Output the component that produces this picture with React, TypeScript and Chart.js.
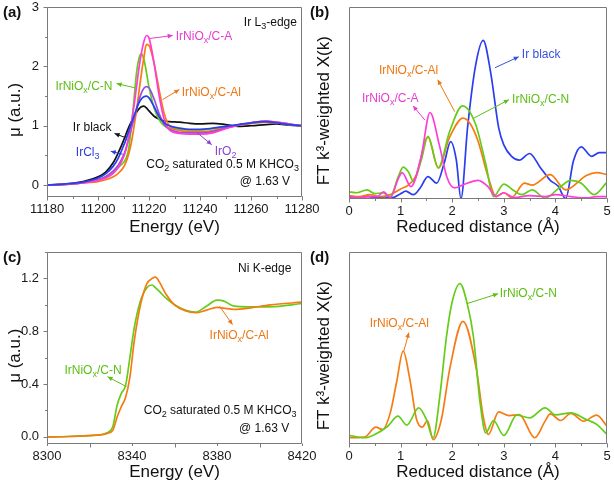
import React, { useEffect, useRef } from 'react';
import { Chart, registerables } from 'chart.js';

Chart.register(...registerables);

const FONT = '"Liberation Sans", Arial, Helvetica, sans-serif';
const FRAME = '#7a7a7a';

const C_BLACK = '#111111';
const C_BLUE = '#2a3df0';
const C_PURPLE = '#9b4fe0';
const C_MAGENTA = '#ff3dd6';
const C_ORANGE = '#f77b12';
const C_GREEN = '#66cc1a';

// ---------- Panel (a): Ir L3-edge XANES ----------
const aEnergy = [11180, 11190, 11195, 11200, 11203, 11206, 11208, 11210, 11211, 11212, 11213, 11214, 11215, 11216, 11217, 11218, 11219, 11220, 11222, 11224, 11226, 11228, 11232, 11236, 11240, 11245, 11250, 11255, 11260, 11266, 11270, 11275, 11280];
const aIrBlack = [0, 0.03, 0.07, 0.14, 0.22, 0.38, 0.55, 0.75, 0.86, 0.97, 1.06, 1.15, 1.22, 1.28, 1.32, 1.33, 1.3, 1.25, 1.16, 1.11, 1.08, 1.07, 1.06, 1.04, 1.03, 1.04, 1.02, 0.99, 1.0, 1.02, 1.03, 1.01, 1.0];
const aIrCl3 = [0, 0.03, 0.06, 0.12, 0.19, 0.32, 0.46, 0.66, 0.77, 0.9, 1.03, 1.15, 1.27, 1.38, 1.45, 1.49, 1.5, 1.47, 1.32, 1.15, 1.05, 1.0, 0.96, 0.94, 0.94, 0.96, 0.99, 1.02, 1.05, 1.07, 1.05, 1.02, 1.0];
const aIrO2 = [0, 0.02, 0.05, 0.09, 0.14, 0.24, 0.34, 0.5, 0.62, 0.78, 0.94, 1.1, 1.27, 1.42, 1.55, 1.63, 1.66, 1.64, 1.45, 1.2, 1.02, 0.94, 0.89, 0.88, 0.88, 0.9, 0.96, 1.01, 1.05, 1.08, 1.06, 1.03, 1.0];
const aCA = [0, 0.02, 0.04, 0.08, 0.12, 0.2, 0.3, 0.47, 0.6, 0.8, 1.03, 1.3, 1.62, 1.95, 2.22, 2.42, 2.52, 2.48, 2.05, 1.5, 1.1, 0.93, 0.87, 0.86, 0.86, 0.88, 0.95, 1.01, 1.05, 1.08, 1.06, 1.03, 1.0];
const aCAl = [0, 0.02, 0.04, 0.06, 0.09, 0.14, 0.2, 0.3, 0.39, 0.52, 0.7, 0.95, 1.23, 1.55, 1.87, 2.15, 2.37, 2.35, 2.05, 1.6, 1.2, 1.0, 0.92, 0.9, 0.9, 0.92, 0.97, 1.01, 1.04, 1.06, 1.05, 1.02, 1.0];
const aCN = [0, 0.02, 0.05, 0.09, 0.14, 0.23, 0.3, 0.38, 0.45, 0.6, 0.95, 1.38, 1.85, 2.12, 2.21, 2.12, 1.9, 1.65, 1.3, 1.1, 1.0, 0.96, 0.94, 0.93, 0.93, 0.95, 0.98, 1.01, 1.04, 1.06, 1.05, 1.02, 1.0];

// ---------- Panel (b): Ir FT-EXAFS ----------
const bIrBlackR = [0, 0.2, 0.35, 0.5, 0.7, 0.85, 1.0, 1.1, 1.25, 1.38, 1.53, 1.7, 1.85, 1.97, 2.08, 2.17, 2.3, 2.45, 2.6, 2.75, 2.9, 3.0, 3.15, 3.3, 3.5, 3.7, 3.9, 4.05, 4.2, 4.35, 4.5, 4.7, 4.85, 5.0];
const bIrBlackV = [0.1, 0.05, 0.12, 0.05, 0.08, 0.05, 0.25, 0.38, 0.2, 0.55, 1.14, 0.8, 1.9, 2.97, 2.0, 0, 3.76, 6.9, 8.26, 6.5, 3.7, 2.8, 2.2, 2.0, 2.35, 1.65, 0.95, 0.65, 0, 1.97, 2.7, 2.2, 2.4, 2.4];
const bCAR = [0, 0.2, 0.4, 0.55, 0.67, 0.8, 0.95, 1.03, 1.2, 1.4, 1.57, 1.75, 1.9, 2.05, 2.2, 2.5, 2.7, 2.85, 3.0, 3.2, 3.5, 3.8, 4.0, 4.3, 4.6, 4.8, 5.0];
const bCAV = [0.1, 0.05, 0.1, 0.1, 0.35, 0.05, 1.0, 1.35, 0.62, 2.2, 4.49, 2.8, 1.1, 0.55, 0.7, 0.95, 0.6, 0.1, 0.3, 0.05, 0.15, 0.1, 0.2, 0.1, 0.03, 0.1, 0.1];
const bCAlR = [0, 0.2, 0.4, 0.6, 0.8, 1.0, 1.15, 1.3, 1.53, 1.73, 1.95, 2.21, 2.35, 2.5, 2.7, 2.85, 3.0, 3.15, 3.4, 3.55, 3.9, 4.2, 4.6, 4.8, 5.0];
const bCAlV = [0.15, 0.1, 0.2, 0.1, 0.2, 0.5, 0.7, 1.2, 3.2, 1.6, 3.2, 4.2, 3.9, 3.0, 1.1, 0.1, 0.3, 0.05, 0.8, 0.7, 1.25, 0.45, 1.2, 1.35, 1.25];
const bCNR = [0, 0.15, 0.35, 0.5, 0.65, 0.8, 0.95, 1.05, 1.15, 1.25, 1.4, 1.53, 1.73, 1.95, 2.2, 2.45, 2.65, 2.8, 3.0, 3.2, 3.35, 3.55, 3.8, 4.05, 4.3, 4.5, 4.75, 5.0];
const bCNV = [0.35, 0.3, 0.45, 0.25, 0.3, 0.1, 1.1, 1.64, 1.4, 0.9, 2.0, 3.24, 1.6, 3.5, 4.84, 3.9, 1.8, 0.1, 0.75, 0.4, 0.2, 0.45, 0.02, 0.5, 0.95, 0.8, 0.2, 0.85];

// ---------- Panel (c): Ni K-edge XANES ----------
const cEnergy = [8300, 8310, 8320, 8325, 8328, 8331, 8333, 8335, 8337, 8339, 8341, 8344, 8347, 8349.5, 8351, 8353, 8356, 8360, 8365, 8370, 8375, 8380, 8383, 8388, 8395, 8405, 8420];
const cCN = [0, 0.003, 0.01, 0.015, 0.03, 0.08, 0.24, 0.33, 0.39, 0.6, 0.82, 1.03, 1.13, 1.15, 1.13, 1.1, 1.05, 1.0, 0.96, 0.945, 0.99, 1.035, 1.03, 0.99, 0.985, 0.985, 1.01];
const cCAl = [0, 0.003, 0.01, 0.015, 0.025, 0.05, 0.15, 0.23, 0.3, 0.45, 0.72, 1.0, 1.16, 1.2, 1.21, 1.17, 1.08, 1.0, 0.955, 0.94, 0.96, 0.98, 0.975, 0.965, 0.975, 1.0, 1.02];

// ---------- Panel (d): Ni FT-EXAFS ----------
const dCNR = [0, 0.3, 0.5, 0.75, 0.95, 1.12, 1.35, 1.5, 1.63, 1.76, 1.89, 2.0, 2.15, 2.3, 2.41, 2.54, 2.65, 2.8, 3.0, 3.25, 3.5, 3.8, 4.0, 4.3, 4.6, 4.8, 5.0];
const dCNV = [0.43, 0.3, 0.47, 0.9, 1.43, 0.96, 1.86, 1.25, 0.3, 2.47, 5.6, 7.4, 8.35, 7.2, 5.6, 2.14, 0.56, 1.2, 0.42, 1.48, 1.34, 1.86, 1.5, 1.6, 1.25, 1.0, 0.47];
const dCAlR = [0, 0.3, 0.52, 0.65, 0.8, 0.92, 1.05, 1.18, 1.31, 1.42, 1.52, 1.63, 1.79, 1.95, 2.21, 2.47, 2.6, 2.7, 2.9, 3.1, 3.3, 3.6, 3.8, 3.9, 4.1, 4.3, 4.55, 4.8, 5.0];
const dCAlV = [0.3, 0.33, 0.85, 0.73, 1.6, 3.17, 4.82, 3.34, 1.25, 0.85, 1.2, 0.2, 1.25, 3.86, 6.38, 3.86, 1.42, 0.47, 1.65, 1.46, 1.51, 0.3, 1.17, 1.55, 1.2, 1.57, 1.17, 1.48, 0.9];

type Series = { x: number[]; y: number[]; color: string };
type Ann = { text: string; x: number; y: number; align: 'left' | 'right'; color: string; arrow?: number[] };

type Panel = {
  label: string;
  left: number; top: number; w: number; h: number;
  padTop: number; padRight: number; yWidth: number; xHeight: number;
  xMin: number; xMax: number; xStep: number; xMinor: number;
  yMin: number; yMax: number; yStep: number; yMinor: number; yLabels: boolean;
  xTitle: string; yTitle: string; yTitleX: number;
  xFmt: (v: number) => string; yFmt: (v: number) => string;
  series: Series[];
  anns: Ann[];
};

const LBL = '_';

const PANELS: Panel[] = [
  {
    label: '(a)', left: 0, top: 0, w: 330, h: 245,
    padTop: 7, padRight: 28, yWidth: 47, xHeight: 48,
    xMin: 11180, xMax: 11280, xStep: 20, xMinor: 10,
    yMin: -0.2, yMax: 3, yStep: 1, yMinor: 0.5, yLabels: true,
    xTitle: 'Energy (eV)', yTitle: 'μ (a.u.)', yTitleX: 15,
    xFmt: (v) => String(v), yFmt: (v) => (Number.isInteger(v) ? String(v) : ''),
    series: [
      { x: aEnergy, y: aIrCl3, color: C_BLUE },
      { x: aEnergy, y: aCA, color: C_MAGENTA },
      { x: aEnergy, y: aIrO2, color: C_PURPLE },
      { x: aEnergy, y: aCAl, color: C_ORANGE },
      { x: aEnergy, y: aCN, color: C_GREEN },
      { x: aEnergy, y: aIrBlack, color: C_BLACK },
    ],
    anns: [
      { text: `Ir L${LBL}3-edge`, x: 11278, y: 2.74, align: 'right', color: '#111' },
      { text: `IrNiO${LBL}x/C-A`, x: 11230.5, y: 2.5, align: 'left', color: '#e63ccf', arrow: [11220.3, 2.47, 11229.3, 2.52] },
      { text: `IrNiO${LBL}x/C-N`, x: 11205.7, y: 1.66, align: 'right', color: '#5cbf14', arrow: [11214.4, 1.64, 11207.3, 1.71] },
      { text: `IrNiO${LBL}x/C-Al`, x: 11232.8, y: 1.56, align: 'left', color: '#ee7712', arrow: [11225.3, 1.44, 11231.9, 1.61] },
      { text: 'Ir black', x: 11205.3, y: 0.97, align: 'right', color: '#111', arrow: [11210.8, 0.8, 11206.5, 0.87] },
      { text: `IrCl${LBL}3`, x: 11200.6, y: 0.55, align: 'right', color: '#2a3de0', arrow: [11209.7, 0.52, 11205, 0.57] },
      { text: `IrO${LBL}2`, x: 11245.8, y: 0.57, align: 'left', color: '#8a45d0', arrow: [11238.7, 0.89, 11244.6, 0.68] },
      { text: `CO${LBL}2 saturated 0.5 M KHCO${LBL}3`, x: 11278.8, y: 0.35, align: 'right', color: '#111' },
      { text: '@ 1.63 V', x: 11275.3, y: 0.05, align: 'right', color: '#111' },
    ],
  },
  {
    label: '(b)', left: 307, top: 0, w: 307, h: 245,
    padTop: 7, padRight: 7, yWidth: 42, xHeight: 46.5,
    xMin: 0, xMax: 5, xStep: 1, xMinor: 0.5,
    yMin: 0, yMax: 10, yStep: 1, yMinor: 0, yLabels: false,
    xTitle: 'Reduced distance (Å)', yTitle: 'FT k³-weighted X(k)', yTitleX: 17.5,
    xFmt: (v) => String(v), yFmt: () => '',
    series: [
      { x: bCAR, y: bCAV, color: C_MAGENTA },
      { x: bCNR, y: bCNV, color: C_GREEN },
      { x: bCAlR, y: bCAlV, color: C_ORANGE },
      { x: bIrBlackR, y: bIrBlackV, color: C_BLUE },
    ],
    anns: [
      { text: 'Ir black', x: 3.35, y: 7.5, align: 'left', color: '#3a4fe0', arrow: [2.83, 6.83, 3.29, 7.4] },
      { text: `IrNiO${LBL}x/C-Al`, x: 0.58, y: 6.68, align: 'left', color: '#ee7712', arrow: [2.05, 4.53, 1.72, 6.2] },
      { text: `IrNiO${LBL}x/C-A`, x: 0.25, y: 5.2, align: 'left', color: '#e63ccf', arrow: [1.47, 4.1, 1.24, 4.84] },
      { text: `IrNiO${LBL}x/C-N`, x: 3.16, y: 5.16, align: 'left', color: '#5cbf14', arrow: [2.42, 4.2, 3.1, 5.16] },
    ],
  },
  {
    label: '(c)', left: 0, top: 245, w: 330, h: 245,
    padTop: 7, padRight: 28, yWidth: 47, xHeight: 46.5,
    xMin: 8300, xMax: 8420, xStep: 40, xMinor: 20,
    yMin: -0.05, yMax: 1.4, yStep: 0.4, yMinor: 0.2, yLabels: true,
    xTitle: 'Energy (eV)', yTitle: 'μ (a.u.)', yTitleX: 15,
    xFmt: (v) => String(v), yFmt: (v) => v.toFixed(1),
    series: [
      { x: cEnergy, y: cCAl, color: C_ORANGE },
      { x: cEnergy, y: cCN, color: C_GREEN },
    ],
    anns: [
      { text: 'Ni K-edge', x: 8415, y: 1.276, align: 'right', color: '#111' },
      { text: `IrNiO${LBL}x/C-Al`, x: 8376.5, y: 0.77, align: 'left', color: '#ee7712', arrow: [8381.2, 0.99, 8387.3, 0.85] },
      { text: `IrNiO${LBL}x/C-N`, x: 8308.2, y: 0.5, align: 'left', color: '#5cbf14', arrow: [8337.4, 0.38, 8328.5, 0.456] },
      { text: `CO${LBL}2 saturated 0.5 M KHCO${LBL}3`, x: 8417.4, y: 0.195, align: 'right', color: '#111' },
      { text: '@ 1.63 V', x: 8414, y: 0.065, align: 'right', color: '#111' },
    ],
  },
  {
    label: '(d)', left: 307, top: 245, w: 307, h: 245,
    padTop: 7, padRight: 7, yWidth: 42, xHeight: 46.5,
    xMin: 0, xMax: 5, xStep: 1, xMinor: 0.5,
    yMin: 0, yMax: 10, yStep: 1, yMinor: 0, yLabels: false,
    xTitle: 'Reduced distance (Å)', yTitle: 'FT k³-weighted X(k)', yTitleX: 17.5,
    xFmt: (v) => String(v), yFmt: () => '',
    series: [
      { x: dCNR, y: dCNV, color: C_GREEN },
      { x: dCAlR, y: dCAlV, color: C_ORANGE },
    ],
    anns: [
      { text: `IrNiO${LBL}x/C-N`, x: 2.92, y: 7.82, align: 'left', color: '#5cbf14', arrow: [2.28, 7.3, 2.89, 7.82] },
      { text: `IrNiO${LBL}x/C-Al`, x: 0.4, y: 6.26, align: 'left', color: '#ee7712', arrow: [1.06, 4.8, 1.16, 5.79] },
    ],
  },
];

function drawRich(ctx: CanvasRenderingContext2D, s: string, x: number, y: number, align: string, size: number, color: string) {
  const segs: { t: string; sub: boolean }[] = [];
  let cur = '';
  for (let i = 0; i < s.length; i++) {
    if (s[i] === LBL && i + 1 < s.length) {
      if (cur) segs.push({ t: cur, sub: false });
      cur = '';
      segs.push({ t: s[i + 1], sub: true });
      i++;
    } else cur += s[i];
  }
  if (cur) segs.push({ t: cur, sub: false });
  const mainF = `${size}px ${FONT}`;
  const subF = `${Math.round(size * 0.72)}px ${FONT}`;
  let w = 0;
  for (const sg of segs) {
    ctx.font = sg.sub ? subF : mainF;
    w += ctx.measureText(sg.t).width;
  }
  let cx = align === 'right' ? x - w : x;
  ctx.fillStyle = color;
  ctx.textAlign = 'left';
  ctx.textBaseline = 'middle';
  for (const sg of segs) {
    ctx.font = sg.sub ? subF : mainF;
    ctx.fillText(sg.t, cx, sg.sub ? y + size * 0.32 : y);
    cx += ctx.measureText(sg.t).width;
  }
}

function makeDeco(p: Panel) {
  return {
    id: 'deco',
    afterDraw(chart: any) {
      const ctx: CanvasRenderingContext2D = chart.ctx;
      const ca = chart.chartArea;
      const xs = chart.scales.x;
      const ys = chart.scales.y;
      ctx.save();
      ctx.strokeStyle = FRAME;
      ctx.lineWidth = 1;
      ctx.beginPath();
      const L = Math.round(ca.left) + 0.5;
      const R = Math.round(ca.right) - 0.5;
      const T = Math.round(ca.top) + 0.5;
      const B = Math.round(ca.bottom) - 0.5;
      ctx.rect(L, T, R - L, B - T);
      const tickX = (step: number, len: number) => {
        const n0 = Math.ceil(xs.min / step - 1e-6);
        const n1 = Math.floor(xs.max / step + 1e-6);
        for (let n = n0; n <= n1; n++) {
          const px = Math.round(xs.getPixelForValue(n * step)) + 0.5;
          ctx.moveTo(px, B);
          ctx.lineTo(px, B + len);
        }
      };
      const tickY = (step: number, len: number) => {
        const n0 = Math.ceil(ys.min / step - 1e-6);
        const n1 = Math.floor(ys.max / step + 1e-6);
        for (let n = n0; n <= n1; n++) {
          const py = Math.round(ys.getPixelForValue(n * step)) + 0.5;
          ctx.moveTo(L, py);
          ctx.lineTo(L - len, py);
        }
      };
      tickX(p.xStep, 4);
      tickX(p.xMinor, 2.5);
      if (p.yLabels) {
        tickY(p.yStep, 4);
        if (p.yMinor) tickY(p.yMinor, 2.5);
      }
      ctx.stroke();

      for (const a of p.anns) {
        if (a.arrow) {
          const x1 = xs.getPixelForValue(a.arrow[0]);
          const y1 = ys.getPixelForValue(a.arrow[1]);
          const x2 = xs.getPixelForValue(a.arrow[2]);
          const y2 = ys.getPixelForValue(a.arrow[3]);
          ctx.strokeStyle = a.color;
          ctx.fillStyle = a.color;
          ctx.lineWidth = 1;
          ctx.beginPath();
          ctx.moveTo(x1, y1);
          ctx.lineTo(x2, y2);
          ctx.stroke();
          const ang = Math.atan2(y2 - y1, x2 - x1);
          const hl = 5, hw = 2.3;
          ctx.beginPath();
          ctx.moveTo(x2, y2);
          ctx.lineTo(x2 - hl * Math.cos(ang) + hw * Math.sin(ang), y2 - hl * Math.sin(ang) - hw * Math.cos(ang));
          ctx.lineTo(x2 - hl * Math.cos(ang) - hw * Math.sin(ang), y2 - hl * Math.sin(ang) + hw * Math.cos(ang));
          ctx.closePath();
          ctx.fill();
        }
        drawRich(ctx, a.text, xs.getPixelForValue(a.x), ys.getPixelForValue(a.y), a.align, 12, a.color);
      }

      // y-axis title (slightly below the plot centre, as in the figure)
      ctx.save();
      ctx.translate(p.yTitleX, (ca.top + ca.bottom) / 2 + 8);
      ctx.rotate(-Math.PI / 2);
      ctx.fillStyle = '#111';
      ctx.font = `17px ${FONT}`;
      ctx.textAlign = 'center';
      ctx.textBaseline = 'middle';
      ctx.fillText(p.yTitle, 0, 0);
      ctx.restore();

      ctx.fillStyle = '#111';
      ctx.font = `bold 15px ${FONT}`;
      ctx.textAlign = 'left';
      ctx.textBaseline = 'middle';
      ctx.fillText(p.label, 3, 13);
      ctx.restore();
    },
  };
}

function buildChart(canvas: HTMLCanvasElement, p: Panel) {
  return new Chart(canvas, {
    type: 'line',
    data: {
      datasets: p.series.map((s) => ({
        data: s.x.map((x, i) => ({ x, y: s.y[i] })),
        borderColor: s.color,
        backgroundColor: s.color,
        borderWidth: 1.7,
        pointRadius: 0,
        cubicInterpolationMode: 'monotone' as const,
        fill: false,
      })),
    },
    options: {
      responsive: false,
      animation: false,
      devicePixelRatio: 1,
      events: [],
      layout: { padding: { left: 0, top: p.padTop, right: p.padRight, bottom: 0 } },
      plugins: { legend: { display: false }, tooltip: { enabled: false } },
      scales: {
        x: {
          type: 'linear',
          min: p.xMin,
          max: p.xMax,
          afterFit: (s: any) => { s.height = p.xHeight; s.paddingLeft = 0; s.paddingRight = 0; },
          grid: { display: false, drawTicks: false },
          border: { display: false },
          ticks: {
            stepSize: p.xStep,
            autoSkip: false,
            maxRotation: 0,
            includeBounds: false,
            padding: 6,
            color: '#1a1a1a',
            font: { family: FONT, size: 13, lineHeight: 1 },
            callback: (v: any) => p.xFmt(Number(v)),
          },
          title: {
            display: true,
            text: p.xTitle,
            color: '#111',
            font: { family: FONT, size: 17 },
            padding: { top: 0, bottom: 7 },
          },
        },
        y: {
          type: 'linear',
          min: p.yMin,
          max: p.yMax,
          afterFit: (s: any) => { s.width = p.yWidth; s.paddingTop = 0; s.paddingBottom = 0; },
          grid: { display: false, drawTicks: false },
          border: { display: false },
          ticks: {
            display: p.yLabels,
            stepSize: p.yStep,
            autoSkip: false,
            includeBounds: false,
            padding: 8,
            color: '#1a1a1a',
            font: { family: FONT, size: 13, lineHeight: 1 },
            callback: (v: any) => p.yFmt(Number(v)),
          },
          title: { display: false },
        },
      },
    } as any,
    plugins: [makeDeco(p)],
  });
}

function PanelView({ p }: { p: Panel }) {
  const ref = useRef<HTMLCanvasElement>(null);
  useEffect(() => {
    if (!ref.current) return;
    const c = buildChart(ref.current, p);
    return () => c.destroy();
  }, [p]);
  return (
    <canvas
      ref={ref}
      width={p.w}
      height={p.h}
      style={{ position: 'absolute', left: p.left, top: p.top, width: p.w, height: p.h }}
    />
  );
}

export default function App() {
  return (
    <div style={{ position: 'absolute', left: 0, top: 0, width: 614, height: 490, background: '#ffffff', overflow: 'hidden' }}>
      {PANELS.map((p) => (
        <PanelView key={p.label} p={p} />
      ))}
    </div>
  );
}
